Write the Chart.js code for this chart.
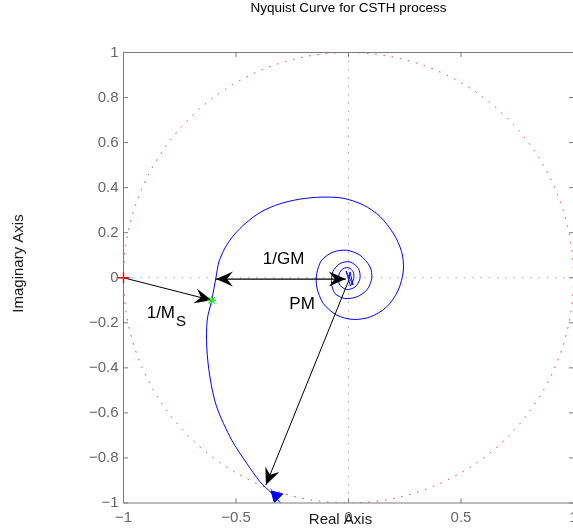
<!DOCTYPE html>
<html>
<head>
<meta charset="utf-8">
<script src="https://cdn.jsdelivr.net/npm/chart.js@4.4.1/dist/chart.umd.min.js"></script>
<style>
  html, body { margin: 0; padding: 0; background: #fff; overflow: hidden; }
  #wrap { position: relative; width: 600px; height: 531px; }
</style>
</head>
<body>
<div id="wrap"><canvas id="c" width="600" height="531"></canvas></div>
<script>
// Nyquist locus of the loop, real and imaginary parts (clockwise spiral into the origin)
const nyqRe = [-0.280, -0.301, -0.341, -0.393, -0.452, -0.519, -0.586, -0.616, -0.630, -0.628,
               -0.608, -0.589, -0.576, -0.549, -0.509, -0.456, -0.389, -0.309, -0.216, -0.118,
               -0.024, 0.066, 0.140, 0.199, 0.236, 0.244, 0.221, 0.170, 0.096, 0.021,
               -0.052, -0.112, -0.141, -0.141, -0.119, -0.068, -0.008, 0.051, 0.096, 0.103,
               0.081, 0.036, -0.016, -0.060, -0.075, -0.070, -0.038, 0.007, 0.044, 0.051,
               0.029, -0.008, -0.038, -0.045, -0.030, -0.001, 0.021, 0.024];
const nyqIm = [-1.030, -1.001, -0.957, -0.906, -0.824, -0.721, -0.573, -0.440, -0.307, -0.188,
               -0.100, 0.001, 0.070, 0.132, 0.190, 0.243, 0.292, 0.327, 0.349, 0.358,
               0.353, 0.323, 0.272, 0.197, 0.116, 0.034, -0.055, -0.129, -0.174, -0.185,
               -0.166, -0.114, -0.041, 0.019, 0.078, 0.114, 0.122, 0.100, 0.048, -0.004,
               -0.055, -0.085, -0.092, -0.070, -0.026, 0.026, 0.063, 0.070, 0.041, -0.004,
               -0.041, -0.052, -0.033, 0.004, 0.036, 0.045, 0.026, -0.004];
// high-frequency tail, coarsely sampled
const tailRe = [0.024, 0.009, -0.011, 0.020, 0.007, 0.002];
const tailIm = [-0.004, -0.037, 0.030, -0.032, 0.026, -0.006];

// axis ticks
const xTickValues = [-1, -0.5, 0, 0.5, 1];
const xTickLabels = ['\u22121', '\u22120.5', '0', '0.5', '1'];
const yTickValues = [-1, -0.8, -0.6, -0.4, -0.2, 0, 0.2, 0.4, 0.6, 0.8, 1];
const yTickLabels = ['\u22121', '\u22120.8', '\u22120.6', '\u22120.4', '\u22120.2', '0',
                     '0.2', '0.4', '0.6', '0.8', '1'];

// special points
const criticalPoint = [-1, 0];          // -1 + j0
const msPoint = [-0.608, -0.100];       // closest approach to -1
const dirPoint = [-0.322, -0.968];      // direction marker on the locus

// margin arrows [x0, y0, x1, y1], head at (x1, y1)
const msArrow = [-1, 0, -0.608, -0.100];
const gmArrow = [-0.012, -0.006, -0.589, -0.006];   // double headed
const pmArrow = [0.002, -0.010, -0.367, -0.920];

const FONT = '"Liberation Sans", Arial, Helvetica, sans-serif';
const AXIS_GRAY = '#7a7a7a';

function toPts(xs, ys) { return xs.map((x, i) => ({ x: x, y: ys[i] })); }

function arrowHead(ctx, tx, ty, fx, fy) {
  const L = 17, W = 15, N = 11;
  const dx = tx - fx, dy = ty - fy, len = Math.hypot(dx, dy);
  const ux = dx / len, uy = dy / len, nx = -uy, ny = ux;
  ctx.beginPath();
  ctx.moveTo(tx, ty);
  ctx.lineTo(tx - ux * L + nx * W / 2, ty - uy * L + ny * W / 2);
  ctx.lineTo(tx - ux * N, ty - uy * N);
  ctx.lineTo(tx - ux * L - nx * W / 2, ty - uy * L - ny * W / 2);
  ctx.closePath();
  ctx.fill();
}

const decorations = {
  id: 'decorations',
  beforeDatasetsDraw(chart) {
    const { ctx, chartArea: a, scales: { x, y } } = chart;
    ctx.save();
    ctx.beginPath();
    ctx.rect(a.left, a.top, a.right - a.left, a.bottom - a.top);
    ctx.clip();
    // real and imaginary axes through the origin
    ctx.strokeStyle = '#a9a9a9';
    ctx.lineWidth = 1;
    ctx.setLineDash([1.5, 6.8]);
    ctx.beginPath();
    ctx.moveTo(a.left, y.getPixelForValue(0));
    ctx.lineTo(a.right, y.getPixelForValue(0));
    ctx.moveTo(x.getPixelForValue(0), a.top);
    ctx.lineTo(x.getPixelForValue(0), a.bottom);
    ctx.stroke();
    // unit circle |L| = 1
    const cx = x.getPixelForValue(0), cy = y.getPixelForValue(0);
    const rx = x.getPixelForValue(1) - cx, ry = cy - y.getPixelForValue(1);
    ctx.strokeStyle = '#ff2020';
    ctx.beginPath();
    ctx.ellipse(cx, cy, rx, ry, 0, 0, Math.PI * 2);
    ctx.stroke();
    ctx.restore();
  },
  afterDatasetsDraw(chart) {
    const { ctx, chartArea: a, scales: { x, y } } = chart;
    ctx.save();
    // axes box with inward ticks
    ctx.strokeStyle = AXIS_GRAY;
    ctx.lineWidth = 1;
    ctx.beginPath();
    ctx.rect(a.left, a.top, a.right - a.left, a.bottom - a.top);
    const tk = 4.5;
    xTickValues.forEach(v => {
      const px = x.getPixelForValue(v);
      ctx.moveTo(px, a.bottom); ctx.lineTo(px, a.bottom - tk);
      ctx.moveTo(px, a.top); ctx.lineTo(px, a.top + tk);
    });
    yTickValues.forEach(v => {
      const py = y.getPixelForValue(v);
      ctx.moveTo(a.left, py); ctx.lineTo(a.left + tk, py);
      ctx.moveTo(a.right, py); ctx.lineTo(a.right - tk, py);
    });
    ctx.stroke();

    // margin arrows
    const P = p => [x.getPixelForValue(p[0]), y.getPixelForValue(p[1])];
    ctx.strokeStyle = '#000';
    ctx.fillStyle = '#000';
    [msArrow, gmArrow, pmArrow].forEach((ar, i) => {
      const [x0, y0] = P([ar[0], ar[1]]);
      const [x1, y1] = P([ar[2], ar[3]]);
      ctx.lineWidth = i === 1 ? 1.3 : 1;
      ctx.beginPath(); ctx.moveTo(x0, y0); ctx.lineTo(x1, y1); ctx.stroke();
      arrowHead(ctx, x1, y1, x0, y0);
      if (i === 1) arrowHead(ctx, x0, y0, x1, y1);
    });

    // markers: critical point (+) and minimum-distance point (*)
    const [cpx, cpy] = P(criticalPoint);
    ctx.strokeStyle = '#ff0000';
    ctx.lineWidth = 1.4;
    Chart.helpers.drawPoint(ctx, {
      pointStyle: 'cross', radius: 5.5, rotation: 0, borderWidth: 1.4,
    }, cpx, cpy);
    const [mpx, mpy] = P(msPoint);
    ctx.strokeStyle = '#22ee22';
    ctx.lineWidth = 1.2;
    Chart.helpers.drawPoint(ctx, {
      pointStyle: 'star', radius: 4.5, rotation: 0, borderWidth: 1.2,
    }, mpx, mpy);

    // annotation text
    ctx.fillStyle = '#000';
    ctx.textBaseline = 'alphabetic';
    ctx.textAlign = 'left';
    ctx.font = '17px ' + FONT;
    let [tx, ty] = P([-0.381, 0.061]);
    ctx.fillText('1/GM', tx, ty);
    [tx, ty] = P([-0.263, -0.140]);
    ctx.fillText('PM', tx, ty);
    [tx, ty] = P([-0.897, -0.180]);
    ctx.fillText('1/M', tx, ty);
    const w = ctx.measureText('1/M').width;
    ctx.font = '15px ' + FONT;
    ctx.fillText('S', tx + w + 1, ty + 7.5);
    ctx.restore();
  },
  afterDraw(chart) {
    const { ctx, chartArea: a } = chart;
    ctx.save();
    ctx.fillStyle = '#000';
    ctx.textAlign = 'center';
    ctx.textBaseline = 'middle';
    ctx.font = '13.5px ' + FONT;
    ctx.fillText('Nyquist Curve for CSTH process', (a.left + a.right) / 2, 8);
    ctx.fillStyle = '#1a1a1a';
    ctx.font = '15px ' + FONT;
    ctx.textBaseline = 'alphabetic';
    ctx.fillText('Real Axis', 340.5, 524);
    ctx.translate(18.5, 263.5);
    ctx.rotate(-Math.PI / 2);
    ctx.textBaseline = 'middle';
    ctx.fillText('Imaginary Axis', 0, 0);
    ctx.restore();
  }
};

const tickFont = { family: FONT, size: 15 };

new Chart(document.getElementById('c'), {
  type: 'scatter',
  data: {
    datasets: [
      {
        data: toPts(nyqRe, nyqIm), showLine: true, tension: 0.3,
        borderColor: '#0000ff', borderWidth: 1, pointRadius: 0
      },
      {
        data: toPts(tailRe, tailIm), showLine: true, tension: 0,
        borderColor: '#0000ff', borderWidth: 1, pointRadius: 0
      },
      {
        data: [{ x: dirPoint[0], y: dirPoint[1] }], pointStyle: 'triangle', rotation: -45,
        pointRadius: 7, borderColor: '#0000ff', backgroundColor: '#0000ff', borderWidth: 1
      }
    ]
  },
  options: {
    responsive: false,
    animation: false,
    devicePixelRatio: 1,
    layout: { padding: { top: 52.5, right: 26.5, bottom: 0, left: 0 } },
    plugins: { legend: { display: false }, tooltip: { enabled: false }, title: { display: false } },
    scales: {
      x: {
        type: 'linear', min: -1, max: 1,
        afterBuildTicks: s => { s.ticks = xTickValues.map(v => ({ value: v })); },
        afterFit: s => { s.height = 28; },
        grid: { display: false, drawTicks: false },
        border: { display: false },
        ticks: {
          autoSkip: false, maxRotation: 0, padding: 6, color: '#666', font: tickFont,
          callback: v => xTickLabels[xTickValues.indexOf(v)]
        }
      },
      y: {
        type: 'linear', min: -1, max: 1,
        afterBuildTicks: s => { s.ticks = yTickValues.map(v => ({ value: v })); },
        afterFit: s => { s.width = 123.5; },
        grid: { display: false, drawTicks: false },
        border: { display: false },
        ticks: {
          autoSkip: false, padding: 5, color: '#666', font: tickFont,
          callback: v => yTickLabels[yTickValues.indexOf(v)]
        }
      }
    }
  },
  plugins: [decorations]
});
</script>
</body>
</html>
